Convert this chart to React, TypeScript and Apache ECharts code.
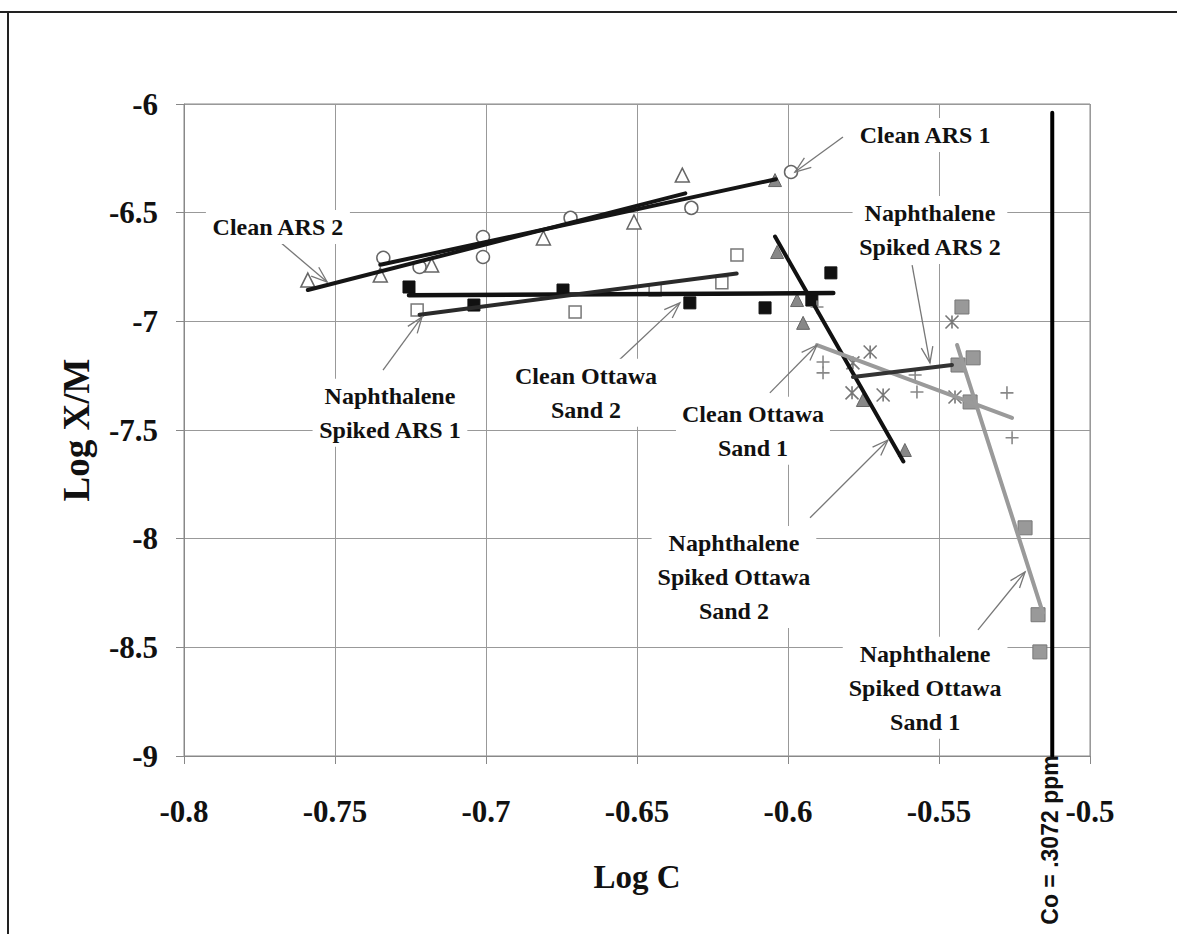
import React, { useEffect, useRef } from "react";
import * as echarts from "echarts";

// ---- data (Log C, Log X/M) ----
const xTicks = [-0.8, -0.75, -0.7, -0.65, -0.6, -0.55, -0.5];
const yTicks = [-6, -6.5, -7, -7.5, -8, -8.5, -9];

const cleanArs2Pts = [[-0.759, -6.81], [-0.735, -6.787], [-0.718, -6.741], [-0.681, -6.616], [-0.651, -6.543], [-0.635, -6.327]];
const cleanArs2Fit = [[-0.759, -6.856], [-0.634, -6.411]];

const cleanArs1Pts = [[-0.734, -6.708], [-0.722, -6.75], [-0.701, -6.612], [-0.701, -6.704], [-0.672, -6.524], [-0.632, -6.478], [-0.599, -6.313]];
const cleanArs1Fit = [[-0.735, -6.74], [-0.604, -6.346]];

const cleanOtt2Pts = [[-0.7255, -6.842], [-0.704, -6.925], [-0.6745, -6.856], [-0.6325, -6.915], [-0.6076, -6.938], [-0.5858, -6.777], [-0.5921, -6.902]];
const cleanOtt2Fit = [[-0.7255, -6.88], [-0.585, -6.87]];

const naphArs1Pts = [[-0.7228, -6.948], [-0.6705, -6.957], [-0.644, -6.856], [-0.6219, -6.823], [-0.6169, -6.695]];
const naphArs1Fit = [[-0.722, -6.97], [-0.617, -6.78]];

const naphOtt2Pts = [[-0.6043, -6.35], [-0.6036, -6.681], [-0.597, -6.902], [-0.595, -7.007], [-0.5752, -7.362], [-0.5613, -7.592]];
const naphOtt2Fit = [[-0.6043, -6.61], [-0.5618, -7.645]];

const naphArs2Pts = [[-0.5728, -7.141], [-0.5785, -7.191], [-0.5788, -7.329], [-0.5685, -7.339], [-0.5457, -7.003], [-0.5447, -7.348]];
const naphArs2Fit = [[-0.5785, -7.256], [-0.5457, -7.201]];

const cleanOtt1Pts = [[-0.5904, -6.934], [-0.5884, -7.187], [-0.5884, -7.237], [-0.5579, -7.247], [-0.5573, -7.325], [-0.5275, -7.329], [-0.5258, -7.536]];
const cleanOtt1Fit = [[-0.5904, -7.109], [-0.5258, -7.444]];

const naphOtt1Pts = [[-0.5424, -6.934], [-0.5387, -7.168], [-0.5437, -7.201], [-0.5397, -7.371], [-0.5215, -7.95], [-0.5172, -8.35], [-0.5166, -8.521]];
const naphOtt1Fit = [[-0.544, -7.109], [-0.5156, -8.341]];

const coValue = -0.5125; // log10(0.3072)
const coLine = [[coValue, -6.04], [coValue, -9]];

// annotation labels with arrows (data coordinates)
const annotations = [
  { text: "Clean ARS 2", at: [-0.7689, -6.566], tail: [-0.7682, -6.635], tip: [-0.7526, -6.819] },
  { text: "Clean ARS 1", at: [-0.5546, -6.143], tail: [-0.5818, -6.152], tip: [-0.5977, -6.313] },
  { text: "Naphthalene\nSpiked ARS 2", at: [-0.553, -6.58], tail: [-0.5589, -6.741], tip: [-0.553, -7.191] },
  { text: "Naphthalene\nSpiked ARS 1", at: [-0.7318, -7.421], tail: [-0.7341, -7.224], tip: [-0.7212, -6.98] },
  { text: "Clean Ottawa\nSand 2", at: [-0.6669, -7.329], tail: [-0.6566, -7.187], tip: [-0.6358, -6.915] },
  { text: "Clean Ottawa\nSand 1", at: [-0.6116, -7.504], tail: [-0.606, -7.329], tip: [-0.5904, -7.109] },
  { text: "Naphthalene\nSpiked Ottawa\nSand 2", at: [-0.6179, -8.176], tail: [-0.5927, -7.904], tip: [-0.5669, -7.546] },
  { text: "Naphthalene\nSpiked Ottawa\nSand 1", at: [-0.5546, -8.686], tail: [-0.5371, -8.42], tip: [-0.5215, -8.153] },
];

const PLUS = "path://M5,0 L5,10 M0,5 L10,5";
const STAR = "path://M0,0 L10,10 M10,0 L0,10 M5,0 L5,10";
const SERIF = "'Liberation Serif', 'Times New Roman', serif";

function scatter(name: string, data: number[][], symbol: string, size: number, fill: string, border: string, bw = 1.5) {
  return {
    name, type: "scatter", data, symbol, symbolSize: size, z: 3,
    itemStyle: { color: fill, borderColor: border, borderWidth: bw, opacity: 1 },
  };
}
function fit(name: string, data: number[][], color: string, width = 4) {
  return {
    name, type: "line", data, showSymbol: false, symbol: "none", z: 4,
    lineStyle: { color, width, cap: "round" },
  };
}

export default function App() {
  const ref = useRef<HTMLDivElement>(null);
  useEffect(() => {
    const chart = echarts.init(ref.current!, null, { renderer: "svg" });
    const axisLabelStyle = { fontFamily: SERIF, fontWeight: "bold", fontSize: 31, color: "#111" };
    chart.setOption({
      animation: false,
      backgroundColor: "#fff",
      grid: { left: 184, top: 104, width: 906, height: 652, show: true, borderColor: "#888", borderWidth: 1 },
      xAxis: {
        type: "value", min: xTicks[0], max: xTicks[xTicks.length - 1], interval: 0.05,
        axisLine: { show: true, onZero: false, lineStyle: { color: "#888" } },
        axisTick: { show: true, length: 8, lineStyle: { color: "#888" } },
        splitLine: { show: true, lineStyle: { color: "#999", width: 1 } },
        axisLabel: { ...axisLabelStyle, margin: 40, formatter: (v: number) => String(Math.round(v * 100) / 100) },
      },
      yAxis: {
        type: "value", min: yTicks[yTicks.length - 1], max: yTicks[0], interval: 0.5,
        axisLine: { show: true, onZero: false, lineStyle: { color: "#888" } },
        axisTick: { show: true, length: 8, lineStyle: { color: "#888" } },
        splitLine: { show: true, lineStyle: { color: "#999", width: 1 } },
        axisLabel: { ...axisLabelStyle, margin: 26, formatter: (v: number) => String(Math.round(v * 10) / 10) },
      },
      series: [
        scatter("Clean ARS 2", cleanArs2Pts, "triangle", 14, "#fff", "#666"),
        scatter("Clean ARS 1", cleanArs1Pts, "circle", 13, "#fff", "#666"),
        scatter("Clean Ottawa Sand 2", cleanOtt2Pts, "rect", 12, "#111", "#111", 1),
        scatter("Naphthalene Spiked ARS 1", naphArs1Pts, "rect", 12, "#fff", "#777"),
        scatter("Naphthalene Spiked Ottawa Sand 2", naphOtt2Pts, "triangle", 13, "#888", "#666", 1),
        scatter("Naphthalene Spiked ARS 2", naphArs2Pts, STAR, 13, "rgba(0,0,0,0)", "#777", 1.6),
        scatter("Clean Ottawa Sand 1", cleanOtt1Pts, PLUS, 13, "rgba(0,0,0,0)", "#888", 1.6),
        scatter("Naphthalene Spiked Ottawa Sand 1", naphOtt1Pts, "rect", 14, "#999", "#777", 1),
        fit("Clean ARS 2 fit", cleanArs2Fit, "#151515"),
        fit("Clean ARS 1 fit", cleanArs1Fit, "#151515"),
        fit("Clean Ottawa Sand 2 fit", cleanOtt2Fit, "#111", 4.5),
        fit("Naphthalene Spiked ARS 1 fit", naphArs1Fit, "#2a2a2a"),
        fit("Naphthalene Spiked Ottawa Sand 2 fit", naphOtt2Fit, "#111"),
        fit("Clean Ottawa Sand 1 fit", cleanOtt1Fit, "#9a9a9a"),
        fit("Naphthalene Spiked ARS 2 fit", naphArs2Fit, "#333"),
        fit("Naphthalene Spiked Ottawa Sand 1 fit", naphOtt1Fit, "#9a9a9a"),
        fit("Co", coLine, "#000", 4),
      ],
    });

    const toPx = (p: number[]) => chart.convertToPixel({ gridIndex: 0 }, p) as number[];
    const graphics: any[] = [];
    annotations.forEach((a) => {
      const tail = toPx(a.tail);
      const tip = toPx(a.tip);
      const ang = Math.atan2(tail[1] - tip[1], tail[0] - tip[0]);
      const hl = 17;
      const h1 = [tip[0] + hl * Math.cos(ang + 0.35), tip[1] + hl * Math.sin(ang + 0.35)];
      const h2 = [tip[0] + hl * Math.cos(ang - 0.35), tip[1] + hl * Math.sin(ang - 0.35)];
      graphics.push({ type: "polyline", z: 50, shape: { points: [tail, tip] }, style: { stroke: "#777", lineWidth: 1.3, fill: null } });
      graphics.push({ type: "polyline", z: 50, shape: { points: [h1, tip, h2] }, style: { stroke: "#777", lineWidth: 1.3, fill: null } });
      const c = toPx(a.at);
      graphics.push({
        type: "text", z: 60, x: c[0], y: c[1],
        style: {
          text: a.text, fontFamily: SERIF, fontWeight: "bold", fontSize: 24, lineHeight: 34,
          fill: "#111", align: "center", verticalAlign: "middle", backgroundColor: "#fff", padding: [0, 6],
        },
      });
    });
    // frame of the page
    graphics.push({ type: "line", z: 70, shape: { x1: 0, y1: 12, x2: 1177, y2: 12 }, style: { stroke: "#222", lineWidth: 2 } });
    graphics.push({ type: "line", z: 70, shape: { x1: 8, y1: 12, x2: 8, y2: 934 }, style: { stroke: "#222", lineWidth: 2 } });
    // axis titles
    graphics.push({
      type: "text", z: 60, x: 76, y: 430, rotation: Math.PI / 2,
      style: { text: "Log X/M", fontFamily: SERIF, fontWeight: "bold", fontSize: 37, fill: "#111", align: "center", verticalAlign: "middle" },
    });
    graphics.push({
      type: "text", z: 60, x: 637, y: 877,
      style: { text: "Log C", fontFamily: SERIF, fontWeight: "bold", fontSize: 33, fill: "#111", align: "center", verticalAlign: "middle" },
    });
    const coPx = toPx([coValue, -9]);
    graphics.push({
      type: "text", z: 60, x: coPx[0] - 2, y: 840, rotation: Math.PI / 2,
      style: { text: "Co = .3072 ppm", fontFamily: "'Liberation Sans', Arial, sans-serif", fontWeight: "bold", fontSize: 23, fill: "#111", align: "center", verticalAlign: "middle" },
    });
    chart.setOption({ graphic: graphics });
    return () => chart.dispose();
  }, []);
  return <div ref={ref} style={{ position: "absolute", left: 0, top: 0, width: 1177, height: 934 }} />;
}
